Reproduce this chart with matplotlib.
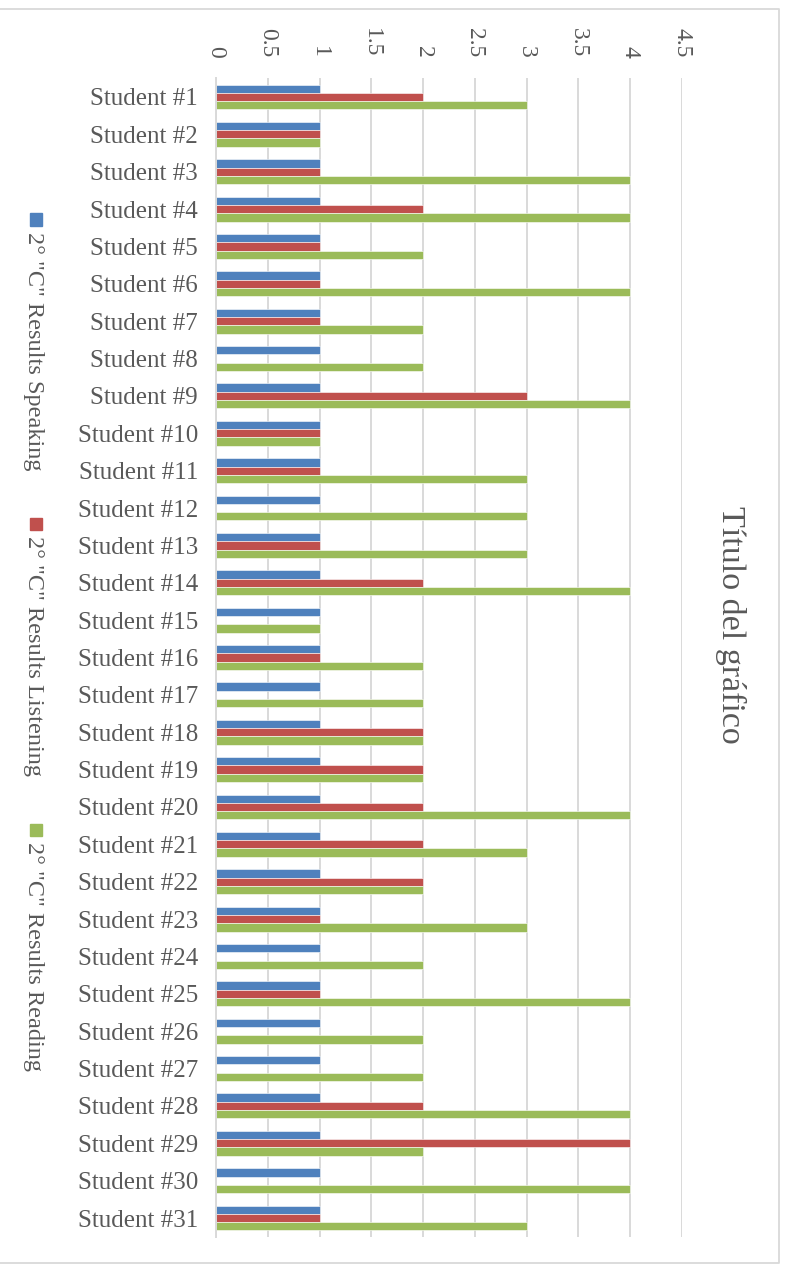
import matplotlib
matplotlib.use("Agg")
import matplotlib.pyplot as plt
from matplotlib.patches import Rectangle
from matplotlib.lines import Line2D
import numpy as np

students = [f"Student #{i}" for i in range(1, 32)]
speaking = [1]*31
listening = [2,1,1,2,1,1,1,0,3,1,1,0,1,2,0,1,0,2,2,2,2,2,1,0,1,0,0,2,4,0,1]
reading = [3,1,4,4,2,4,2,2,4,1,3,3,3,4,1,2,2,2,2,4,3,2,3,2,4,2,2,4,2,4,3]
series_names = ['2° "C" Results Speaking', '2° "C" Results Listening', '2° "C" Results Reading']
series_colors = ["#4F81BD", "#C0504D", "#9BBB59"]
xticks = [0, 0.5, 1, 1.5, 2, 2.5, 3, 3.5, 4, 4.5]
xtick_labels = ["0", "0.5", "1", "1.5", "2", "2.5", "3", "3.5", "4", "4.5"]
title = "Título del gráfico"

plt.rcParams['font.family'] = ['Liberation Serif', 'DejaVu Serif']
W, H = 788, 1264
fig = plt.figure(figsize=(W/100, H/100), dpi=100)

# outer border (top, right, bottom)
fx = lambda px: px / W
fy = lambda py: 1 - py / H
fig.lines.append(Line2D([fx(0), fx(779), fx(779), fx(0)], [fy(8.5), fy(8.5), fy(1263), fy(1263)],
                        transform=fig.transFigure, color="#D9D9D9", linewidth=1.3))

ax = fig.add_axes([216/W, 1 - 1236.7/H, (682-216)/W, (1236.7-78.3)/H])
y = np.arange(len(students))
h = 0.222
for k, vals in enumerate([speaking, listening, reading]):
    ax.barh(y + (k-1)*h, vals, height=h, color=series_colors[k], edgecolor="white",
            linewidth=0.4, zorder=3, label=series_names[k])

ax.set_xlim(0, 4.5)
ax.set_ylim(len(students)-0.5, -0.5)
ax.set_yticks(y)
ax.set_yticklabels(students, fontsize=18, color="#595959")
ax.xaxis.tick_top()
ax.set_xticks(xticks)
ax.set_xticklabels(xtick_labels, rotation=-90, fontsize=17, color="#595959")
ax.tick_params(axis='x', length=0, pad=15)
ax.tick_params(axis='y', length=0, pad=13)
ax.grid(axis='x', color="#D9D9D9", linewidth=1.4, zorder=0)
for s in ['top', 'right', 'bottom']:
    ax.spines[s].set_visible(False)
ax.spines['left'].set_color("#D9D9D9")
ax.spines['left'].set_linewidth(1.4)
ax.spines['left'].set_zorder(4)

fig.text(731/W, 1 - 625/H, title, rotation=-90, ha='center', va='center',
         fontsize=24.5, color="#595959")

leg_y = [219.5, 523.5, 829.5]
for k in range(3):
    sq = 12
    fig.patches.append(Rectangle(((35.5 - sq/2)/W, 1 - (leg_y[k] + sq/2)/H), sq/W, sq/H,
                                 transform=fig.transFigure, color=series_colors[k]))
    fig.text(33/W, 1 - (leg_y[k] + 12)/H, series_names[k], rotation=-90, ha='center', va='top',
             fontsize=17.5, color="#595959")

fig.savefig("out.png", dpi=100)
